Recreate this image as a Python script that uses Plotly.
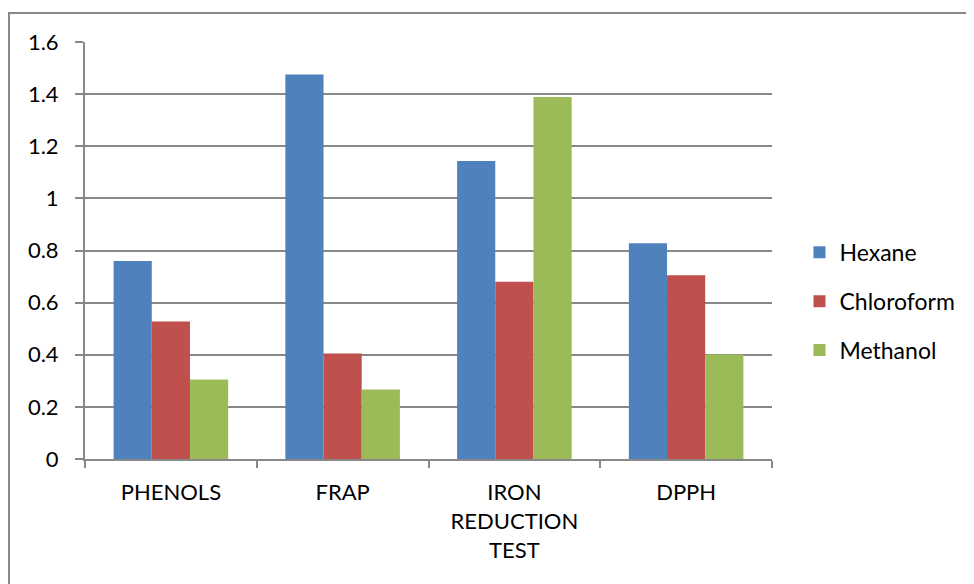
import plotly.graph_objects as go

categories = ["PHENOLS", "FRAP", "IRON<br>REDUCTION<br>TEST", "DPPH"]
hexane = [0.76, 1.475, 1.143, 0.828]
chloroform = [0.528, 0.405, 0.68, 0.705]
methanol = [0.305, 0.267, 1.389, 0.401]
series_names = ["Hexane", "Chloroform", "Methanol"]
colors = ["#4F81BD", "#C0504D", "#9BBB59"]
y_ticks = [0, 0.2, 0.4, 0.6, 0.8, 1, 1.2, 1.4, 1.6]
y_ticktext = ["0", "0.2", "0.4", "0.6", "0.8", "1", "1.2", "1.4", "1.6"]

fig = go.Figure()
for name, vals, col in zip(series_names, [hexane, chloroform, methanol], colors):
    fig.add_trace(go.Bar(x=categories, y=vals, name=name, marker_color=col,
                         marker_line_width=0, legendgroup=name))

fig.update_layout(
    width=966, height=576,
    margin=dict(l=77, r=202, t=34, b=125),
    paper_bgcolor="white", plot_bgcolor="white",
    font=dict(family="Lato, Carlito, sans-serif", color="#000000"),
    barmode="group", bargap=0.333, bargroupgap=0,
    showlegend=True,
    legend=dict(x=1.04, y=0.378, xanchor="left", yanchor="middle",
                font=dict(size=23), tracegroupgap=16, bgcolor="rgba(0,0,0,0)"),
    xaxis=dict(showline=True, linecolor="#888888", linewidth=2,
               tickson="boundaries", ticks="outside", ticklen=7, tickwidth=2,
               tickcolor="#888888", tickfont=dict(size=22), showgrid=False,
               ticklabelstandoff=13),
    yaxis=dict(range=[0, 1.6], tickvals=y_ticks, ticktext=y_ticktext,
               showline=True, linecolor="#888888", linewidth=2,
               ticks="outside", ticklen=8, tickwidth=2, tickcolor="#888888",
               showgrid=True, gridcolor="#888888", gridwidth=2,
               tickfont=dict(size=22), zeroline=False, ticklabelstandoff=12),
)

fig.add_shape(type="rect", xref="paper", yref="paper",
              x0=-0.1106, x1=1.2897, y0=-0.4, y1=1.0695,
              line=dict(color="#888888", width=2), fillcolor="rgba(0,0,0,0)", layer="below")

fig.write_html("out.html")
